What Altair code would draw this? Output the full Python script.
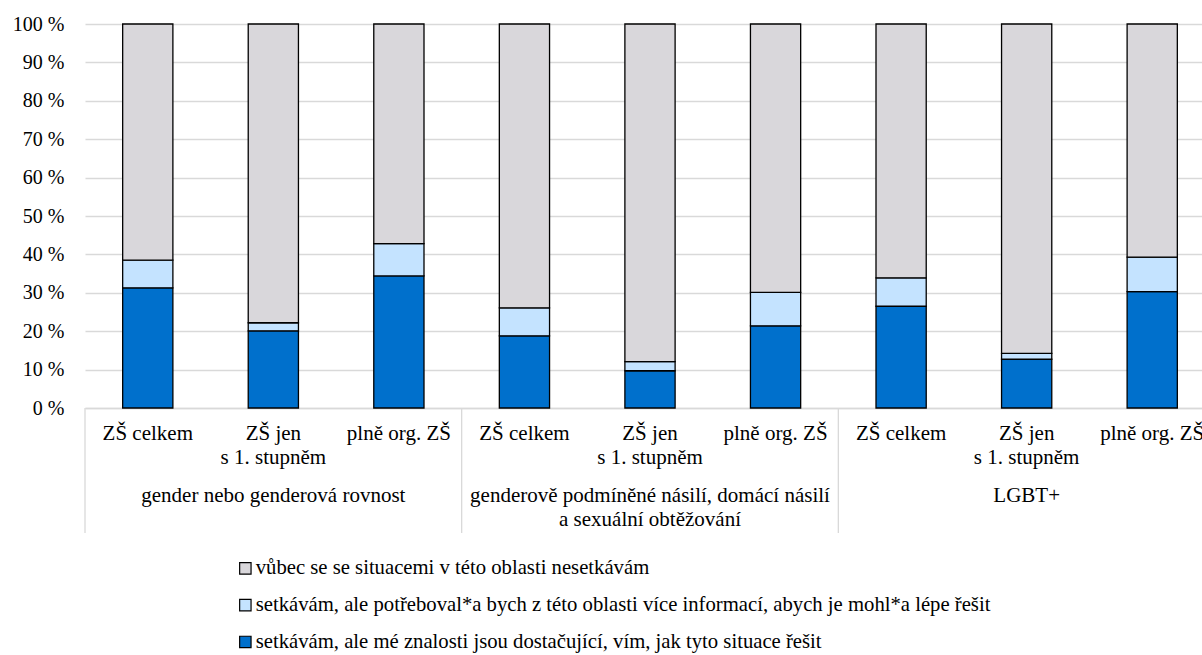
import altair as alt
import pandas as pd

# Topics (outer x groups) and school types (inner x categories)
topics = [
    "gender nebo genderová rovnost",
    "genderově podmíněné násilí, domácí násilí\na sexuální obtěžování",
    "LGBT+",
]
school_types = ["ZŠ celkem", "ZŠ jen\ns 1. stupněm", "plně org. ZŠ"]

# Answer categories, listed in legend order (top of stack first)
series = [
    "vůbec se se situacemi v této oblasti nesetkávám",
    "setkávám, ale potřeboval*a bych z této oblasti více informací, abych je mohl*a lépe řešit",
    "setkávám, ale mé znalosti jsou dostačující, vím, jak tyto situace řešit",
]
colors = ["#D9D7DB", "#C4E3FF", "#0070CC"]

# Shares in %, one value per bar: topics in order, school types within each topic
sufficient = [31.3, 20.1, 34.4, 18.8, 9.7, 21.4, 26.5, 12.7, 30.3]
need_info = [7.2, 2.1, 8.4, 7.3, 2.4, 8.7, 7.4, 1.5, 9.0]

FONT = "Liberation Serif"
GRID = "#D9D9D9"

keys, subs, bar_rows = [], [], []
i = 0
for ti, topic in enumerate(topics):
    for si, st in enumerate(school_types):
        key = f"{ti}-{si}"
        keys.append(key)
        subs.append(st)
        never = 100 - sufficient[i] - need_info[i]
        for rank, (name, val) in enumerate(
            [(series[2], sufficient[i]), (series[1], need_info[i]), (series[0], never)]
        ):
            bar_rows.append({"key": key, "series": name, "value": val, "rank": rank})
        i += 1

bars_df = pd.DataFrame(bar_rows)
labels_df = pd.DataFrame({"key": keys, "sub": subs})
topics_df = pd.DataFrame({"topic": topics})

span = [0, 1130]
x_scale = alt.Scale(domain=keys, range=span, paddingInner=0.6, paddingOuter=0.3)
topic_scale = alt.Scale(domain=topics, range=span, paddingInner=0, paddingOuter=0)

bars = (
    alt.Chart(bars_df)
    .mark_bar(stroke="black", strokeWidth=1.3)
    .encode(
        x=alt.X(
            "key:N",
            sort=keys,
            scale=x_scale,
            axis=alt.Axis(
                labels=False, ticks=False, domain=True, domainColor=GRID,
                domainWidth=1.3, grid=False, title=None,
            ),
        ),
        y=alt.Y(
            "value:Q",
            stack="zero",
            scale=alt.Scale(domain=[0, 100], nice=False),
            axis=alt.Axis(
                values=list(range(0, 101, 10)),
                labelExpr="datum.value + ' %'",
                grid=True, gridColor=GRID, gridWidth=1.3,
                domain=False, ticks=False, labelPadding=21,
                labelFont=FONT, labelFontSize=20, labelColor="black",
                title=None,
            ),
        ),
        color=alt.Color(
            "series:N",
            scale=alt.Scale(domain=series, range=colors),
            legend=alt.Legend(
                title=None, orient="none", legendX=150, legendY=534,
                direction="vertical", symbolType="square", symbolSize=130,
                symbolStrokeColor="black", symbolStrokeWidth=1.2,
                symbolOpacity=1, labelFont=FONT, labelFontSize=20.7,
                labelColor="black", labelLimit=1200, labelOffset=0,
                rowPadding=14.8, padding=0,
            ),
        ),
        order=alt.Order("rank:Q", sort="ascending"),
    )
)

sub_labels = (
    alt.Chart(labels_df)
    .mark_text(
        font=FONT, fontSize=21, color="black", align="center",
        baseline="alphabetic", lineBreak="\n", lineHeight=24,
    )
    .encode(
        x=alt.X("key:N", sort=keys, scale=x_scale, axis=None),
        y=alt.value(416),
        text="sub:N",
    )
)

topic_labels = (
    alt.Chart(topics_df)
    .mark_text(
        font=FONT, fontSize=21, color="black", align="center",
        baseline="alphabetic", lineBreak="\n", lineHeight=24,
    )
    .encode(
        x=alt.X("topic:N", sort=topics, scale=topic_scale, axis=None, bandPosition=0.5),
        y=alt.value(478),
        text="topic:N",
    )
)

separators = (
    alt.Chart(topics_df)
    .mark_rule(color=GRID, strokeWidth=1.3)
    .encode(
        x=alt.X("topic:N", sort=topics, scale=topic_scale, axis=None, bandPosition=0),
        y=alt.value(384),
        y2=alt.value(509),
    )
)

chart = (
    alt.layer(bars, separators, sub_labels, topic_labels)
    .resolve_scale(x="independent")
    .properties(
        width=1117,
        height=384,
        autosize=alt.AutoSizeParams(type="none"),
        padding={"left": 85, "top": 24, "right": 0, "bottom": 247},
        background="white",
    )
    .configure_view(stroke=None)
)

chart.save("out.html", embed_options={"renderer": "svg", "actions": False})
